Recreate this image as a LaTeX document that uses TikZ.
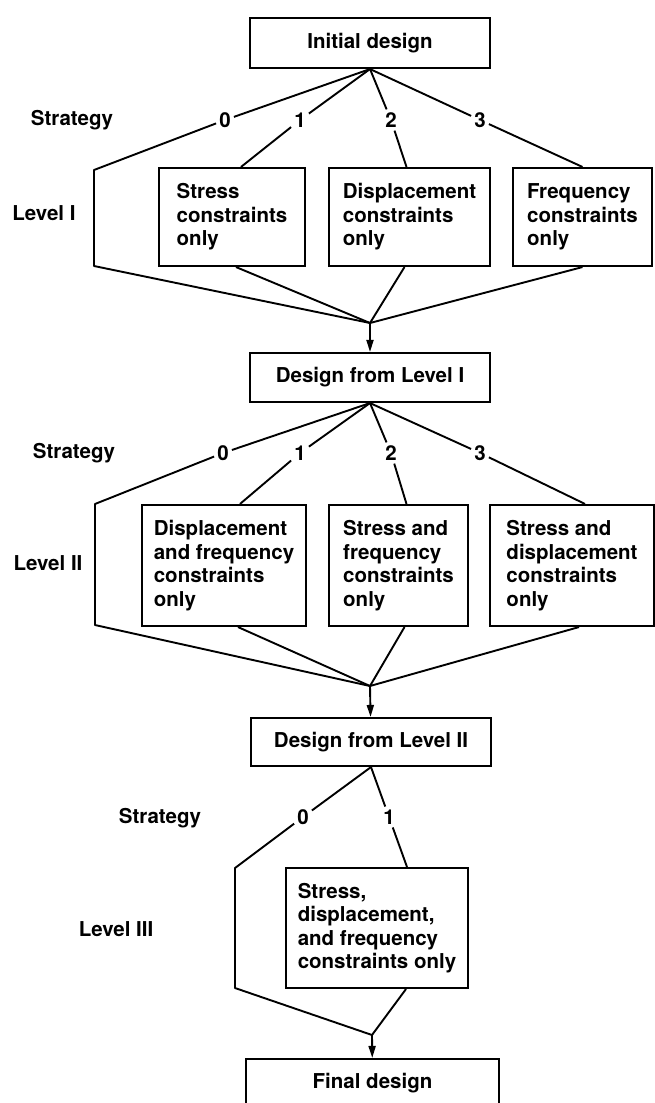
\documentclass[tikz,border=0pt]{standalone}
\usepackage{fontspec}
\setmainfont{TeX Gyre Heros}
\usetikzlibrary{arrows.meta}
\tikzset{
  design/.style = {rectangle, draw, line width=2.1pt, minimum width=240pt,
                   minimum height=50pt, align=center},
  cons/.style   = {rectangle, draw, line width=2.1pt, align=left, inner sep=0pt},
  tag/.style    = {inner sep=0pt},
  num/.style    = {inner sep=3pt},
  branch/.style = {line width=1.9pt, line join=round},
  flow/.style   = {line width=1.9pt, -{Triangle[length=12pt, width=7pt]}}
}

\begin{document}
\begin{tikzpicture}[x=1pt, y=-1pt, font=\fontsize{20.5pt}{23.5pt}\selectfont\bfseries]
  \clip (0,0) rectangle (655,1103);

  % Level I
  \node[design] (initDesign) at (370,43) {Initial design};
  \node[tag] (stratI) at (72,120) {Strategy};
  \node[tag] (levelI) at (44,213) {Level I};
  \node[num] (s0I) at (225,120) {0};
  \node[num] (s1I) at (300,120) {1};
  \node[num] (s2I) at (391,120) {2};
  \node[num] (s3I) at (480,120) {3};
  \node[cons, minimum width=146pt, minimum height=98pt] (stressOnly) at (232,217)
    {Stress\\constraints\\only};
  \node[cons, minimum width=161pt, minimum height=98pt] (dispOnly) at (409.5,217)
    {Displacement\\constraints\\only};
  \node[cons, minimum width=139pt, minimum height=98pt] (freqOnly) at (582.5,217)
    {Frequency\\constraints\\only};
  \coordinate (c0Itop) at (94,170);
  \coordinate (c0Ibot) at (94,266);
  \coordinate (mergeI) at (370,323);

  \draw[branch] (initDesign.south) -- (s0I) -- (c0Itop) -- (c0Ibot) -- (mergeI);
  \draw[branch] (initDesign.south) -- (s1I) -- ([xshift=9pt]stressOnly.north);
  \draw[branch] (initDesign.south) -- (s2I) -- ([xshift=-3pt]dispOnly.north);
  \draw[branch] (initDesign.south) -- (s3I) -- (freqOnly.north);
  \draw[branch] ([xshift=4pt]stressOnly.south) -- (mergeI);
  \draw[branch] ([xshift=-5pt]dispOnly.south) -- (mergeI);
  \draw[branch] (freqOnly.south) -- (mergeI);

  % Level II
  \node[design, minimum height=49pt] (designI) at (370,377.5) {Design from Level I};
  \draw[flow] (mergeI) -- (designI);
  \node[tag] (stratII) at (74,453) {Strategy};
  \node[tag] (levelII) at (48,563) {Level II};
  \node[num] (s0II) at (223,453) {0};
  \node[num] (s1II) at (300,453) {1};
  \node[num] (s2II) at (391,453) {2};
  \node[num] (s3II) at (480,453) {3};
  \node[cons, minimum width=164pt, minimum height=121pt] (dispFreq) at (224,565.5)
    {Displacement\\and frequency\\constraints\\only};
  \node[cons, minimum width=139pt, minimum height=121pt] (stressFreq) at (398.5,565.5)
    {Stress and\\frequency\\constraints\\only};
  \node[cons, minimum width=164pt, minimum height=121pt] (stressDisp) at (572,565.5)
    {Stress and\\displacement\\constraints\\only};
  \coordinate (c0IItop) at (95,504);
  \coordinate (c0IIbot) at (95,625);
  \coordinate (mergeII) at (370,686);

  \draw[branch] (designI.south) -- (s0II) -- (c0IItop) -- (c0IIbot) -- (mergeII);
  \draw[branch] (designI.south) -- (s1II) -- ([xshift=16pt]dispFreq.north);
  \draw[branch] (designI.south) -- (s2II) -- ([xshift=8pt]stressFreq.north);
  \draw[branch] (designI.south) -- (s3II) -- ([xshift=13pt]stressDisp.north);
  \draw[branch] ([xshift=14pt]dispFreq.south) -- (mergeII);
  \draw[branch] ([xshift=6pt]stressFreq.south) -- (mergeII);
  \draw[branch] ([xshift=7pt]stressDisp.south) -- (mergeII);

  % Level III
  \node[design, minimum height=48pt] (designII) at (371,742) {Design from Level II};
  \draw[flow] (mergeII) -- (designII);
  \node[tag] (stratIII) at (160,818) {Strategy};
  \node[tag] (levelIII) at (116,929) {Level III};
  \node[num] (s0III) at (303,817) {0};
  \node[num] (s1III) at (389,817) {1};
  \node[cons, minimum width=182pt, minimum height=120pt] (allCons) at (377,928)
    {Stress,\\displacement,\\and frequency\\constraints only};
  \coordinate (c0IIItop) at (235,868);
  \coordinate (c0IIIbot) at (235,988);
  \coordinate (mergeIII) at (372,1035);

  \draw[branch] (designII.south) -- (s0III) -- (c0IIItop) -- (c0IIIbot) -- (mergeIII);
  \draw[branch] (designII.south) -- (s1III) -- ([xshift=30pt]allCons.north);
  \draw[branch] ([xshift=29pt]allCons.south) -- (mergeIII);

  \node[design, minimum width=253pt, minimum height=48pt] (finalDesign) at (372.5,1083)
    {Final design};
  \draw[flow] (mergeIII) -- (finalDesign);
\end{tikzpicture}
\end{document}
